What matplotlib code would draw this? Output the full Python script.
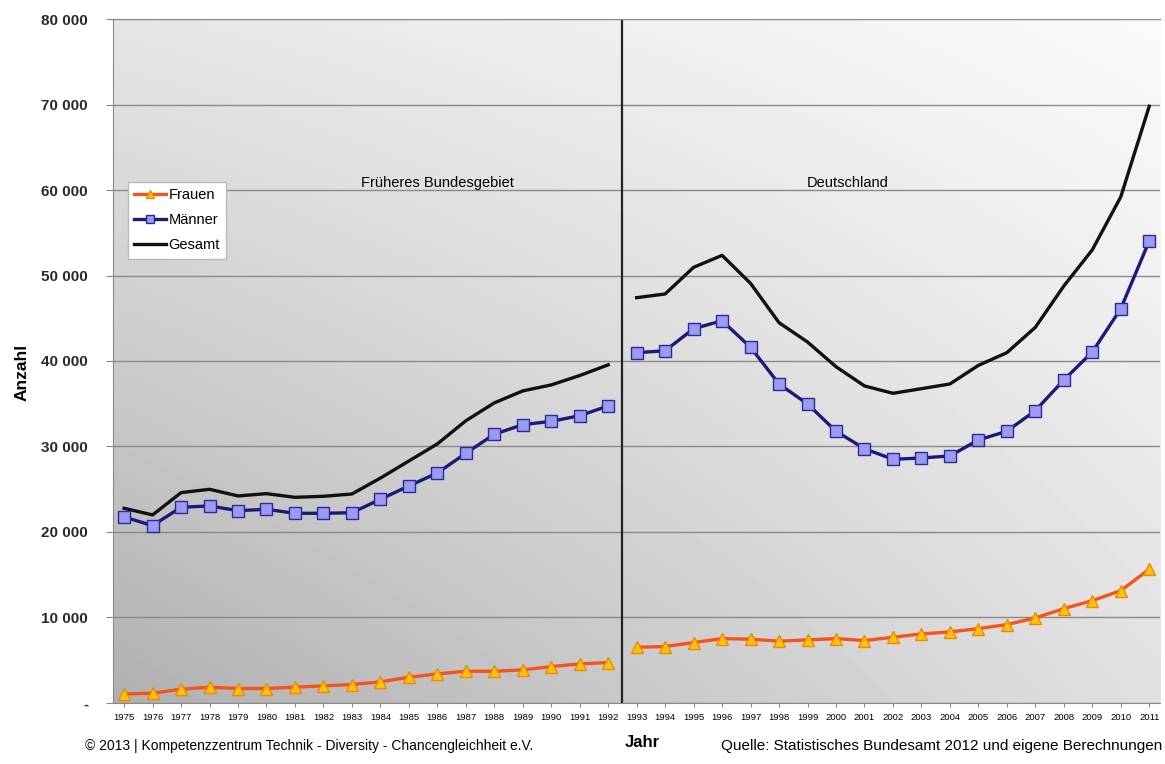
import numpy as np
import matplotlib
matplotlib.use("Agg")
import matplotlib.pyplot as plt
from matplotlib.ticker import FuncFormatter

plt.rcParams['font.family'] = ['Liberation Sans', 'DejaVu Sans']

# Jahre
jahre_west = list(range(1975, 1993))
jahre_de = list(range(1993, 2012))

# Früheres Bundesgebiet
frauen_west = [1050, 1130, 1600, 1840, 1680, 1680, 1840, 1990, 2150, 2460,
               3000, 3390, 3700, 3700, 3860, 4250, 4560, 4720]
maenner_west = [21750, 20740, 22890, 23040, 22490, 22650, 22180, 22180, 22250, 23820,
                25380, 26900, 29200, 31430, 32550, 32940, 33600, 34740]
gesamt_west = [22770, 21990, 24600, 24990, 24210, 24480, 24050, 24170, 24440, 26300,
               28300, 30300, 33000, 35100, 36500, 37200, 38300, 39550]

# Deutschland
frauen_de = [6510, 6590, 7060, 7520, 7450, 7220, 7370, 7520, 7290, 7680,
             8070, 8300, 8690, 9160, 9940, 11030, 11960, 13130, 15640]
maenner_de = [40970, 41200, 43780, 44710, 41600, 37310, 34970, 31780, 29740, 28500,
              28650, 28890, 30760, 31780, 34190, 37780, 41050, 46120, 54040]
gesamt_de = [47410, 47840, 50960, 52360, 49080, 44480, 42220, 39330, 37080, 36220,
             36760, 37310, 39490, 40970, 43940, 48770, 53000, 59200, 69800]

fig = plt.figure(figsize=(11.65, 7.64), dpi=100)
ax = fig.add_axes([0.097, 0.08, 0.899, 0.895])

x0, x1 = 1974.61, 2011.39
ax.set_xlim(x0, x1)
ax.set_ylim(0, 80000)

# diagonaler Grauverlauf im Hintergrund
g = np.linspace(0, 1, 200)
gx, gy = np.meshgrid(g, g)
bl, br, tl, tr = 0.69, 0.88, 0.90, 0.98
grad = (bl * (1 - gx) * (1 - gy) + br * gx * (1 - gy)
        + tl * (1 - gx) * gy + tr * gx * gy)
ax.imshow(grad, cmap='gray', vmin=0, vmax=1, origin='lower', aspect='auto',
          extent=[x0, x1, 0, 80000], zorder=0, interpolation='bilinear')

ax.set_yticks(range(0, 80001, 10000))
ax.yaxis.grid(True, color='#8a8a8a', linewidth=1.0, zorder=1)
ax.set_axisbelow(True)
ax.yaxis.set_major_formatter(FuncFormatter(
    lambda v, p: '-' if v == 0 else f"{v:,.0f}".replace(",", " ")))

ax.axvline(1992.5, color='#222222', linewidth=1.6, zorder=2)

def draw(jahre, fr, ma, ge, lab):
    ax.plot(jahre, fr, color='#f5541c', linewidth=2.4, marker='^', markersize=8.5,
            markerfacecolor='#ffc20e', markeredgecolor='#f08a00', markeredgewidth=1.0,
            label='Frauen' if lab else None, zorder=4)
    ax.plot(jahre, ma, color='#1c1a78', linewidth=2.4, marker='s', markersize=8.5,
            markerfacecolor='#9b9bf2', markeredgecolor='#2a2a9a', markeredgewidth=1.0,
            label='Männer' if lab else None, zorder=4)
    ax.plot(jahre, ge, color='#111111', linewidth=2.4,
            label='Gesamt' if lab else None, zorder=3)

draw(jahre_west, frauen_west, maenner_west, gesamt_west, True)
draw(jahre_de, frauen_de, maenner_de, gesamt_de, False)

ax.text(1986.0, 60800, 'Früheres Bundesgebiet', ha='center', va='center', fontsize=10.5)
ax.text(2000.4, 60800, 'Deutschland', ha='center', va='center', fontsize=10.5)

leg = ax.legend(loc='upper left', bbox_to_anchor=(0.014, 0.762), fontsize=10.5,
                frameon=True, fancybox=False, framealpha=1, edgecolor='#bbbbbb',
                handlelength=2.2, handletextpad=0.15, borderpad=0.45,
                labelspacing=0.75, markerscale=0.7, borderaxespad=0)

jahre = jahre_west + jahre_de
ax.set_xticks(jahre)
ax.set_xticklabels([str(j) for j in jahre], fontsize=6.8)
ax.tick_params(axis='x', length=3, color='#888888', pad=4)
ax.tick_params(axis='y', length=5, color='#888888', labelsize=11, pad=13)
for t in ax.get_yticklabels():
    t.set_fontweight('bold')
    t.set_color('#2a2a2a')

for s in ['left', 'top', 'bottom']:
    ax.spines[s].set_color('#8a8a8a')
ax.spines['right'].set_visible(False)

fig.text(0.019, 0.512, 'Anzahl', rotation=90, ha='center', va='center',
         fontsize=12.5, fontweight='bold')
fig.text(0.551, 0.028, 'Jahr', ha='center', va='center', fontsize=12, fontweight='bold')
fig.text(0.073, 0.024, '© 2013 | Kompetenzzentrum Technik - Diversity - Chancengleichheit e.V.',
         ha='left', va='center', fontsize=10)
fig.text(0.998, 0.024, 'Quelle: Statistisches Bundesamt 2012 und eigene Berechnungen',
         ha='right', va='center', fontsize=11)

fig.savefig('out.png', dpi=100, facecolor='white')
